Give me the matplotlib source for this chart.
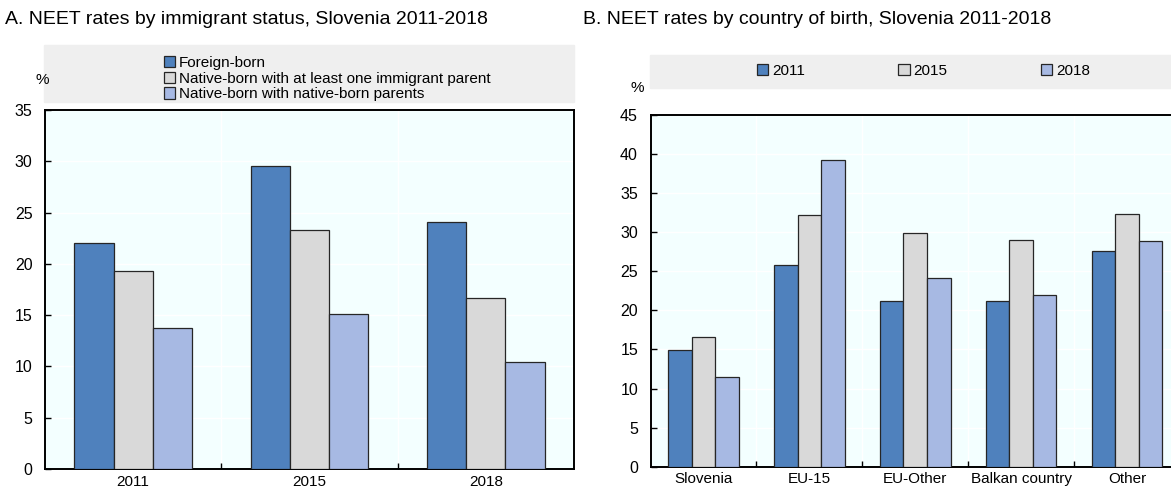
import matplotlib
matplotlib.use("Agg")
import matplotlib.pyplot as plt
import numpy as np
from matplotlib.patches import Rectangle

plt.rcParams["font.family"] = ["Liberation Sans Narrow", "Liberation Sans", "DejaVu Sans"]

# Panel A: NEET rates by immigrant status
years = ["2011", "2015", "2018"]
status_labels = [
    "Foreign-born",
    "Native-born with at least one immigrant parent",
    "Native-born with native-born parents",
]
foreign_born = [22.0, 29.5, 24.1]
native_imm_parent = [19.3, 23.3, 16.7]
native_native = [13.7, 15.1, 10.4]

# Panel B: NEET rates by country of birth
countries = ["Slovenia", "EU-15", "EU-Other", "Balkan country", "Other"]
rate_2011 = [14.9, 25.85, 21.25, 21.25, 27.6]
rate_2015 = [16.55, 32.25, 29.9, 29.05, 32.3]
rate_2018 = [11.5, 39.2, 24.15, 22.0, 28.85]

COLORS = ["#4f81bd", "#d9d9d9", "#a7b9e3"]
BG = "#f3ffff"
LEG_BG = "#efefef"
W, H = 1171, 490


def px_axes(fig, left, top, right, bottom):
    return fig.add_axes([left / W, (H - bottom) / H, (right - left) / W, (bottom - top) / H])


def grouped(ax, series, labels, cats, ymax, step):
    n = len(series)
    x = np.arange(len(cats))
    w = 0.222
    for i, (vals, lab) in enumerate(zip(series, labels)):
        ax.bar(x + (i - (n - 1) / 2) * w, vals, w, color=COLORS[i], edgecolor="#262626",
               linewidth=0.9, label=lab, zorder=3)
    ax.set_facecolor(BG)
    ax.set_xlim(-0.5, len(cats) - 0.5)
    ax.set_ylim(0, ymax)
    ax.set_yticks(np.arange(0, ymax + 0.1, step))
    ax.set_xticks(x)
    ax.set_xticklabels(cats)
    ax.set_xticks(np.arange(0.5, len(cats) - 0.5, 1), minor=True)
    ax.tick_params(axis="x", which="major", length=0, pad=4, labelsize=11)
    ax.tick_params(axis="x", which="minor", direction="in", length=4, width=1)
    ax.tick_params(axis="y", direction="in", length=4, width=1, pad=9, labelsize=11.5)
    ax.grid(True, which="minor", axis="x", color="white", linewidth=1, zorder=0)
    ax.grid(True, which="major", axis="y", color="white", linewidth=1, zorder=0)
    for s in ax.spines.values():
        s.set_linewidth(1.4)
        s.set_color("black")


fig = plt.figure(figsize=(W / 100, H / 100), dpi=100)

# A
axA = px_axes(fig, 45, 110, 574, 469)
grouped(axA, [foreign_born, native_imm_parent, native_native], status_labels, years, 35, 5)
fig.patches.append(Rectangle((44 / W, (H - 102) / H), 530 / W, 57 / H,
                             transform=fig.transFigure, color=LEG_BG, zorder=0))
hA, lA = axA.get_legend_handles_labels()
fig.legend(hA, lA, loc="upper left", bbox_to_anchor=(153 / W, (H - 45) / H),
           frameon=False, fontsize=11, handlelength=0.75, handleheight=0.75,
           handletextpad=0.25, labelspacing=0.12, borderpad=0.2)
fig.text(5 / W, (H - 20) / H, "A. NEET rates by immigrant status, Slovenia 2011-2018",
         fontsize=14, va="center", ha="left")
fig.text(42 / W, (H - 80) / H, "%", fontsize=11, va="center", ha="center")

# B
axB = px_axes(fig, 650.5, 115, 1180, 466.7)
grouped(axB, [rate_2011, rate_2015, rate_2018], years, countries, 45, 5)
fig.patches.append(Rectangle((650 / W, (H - 88) / H), 530 / W, 33 / H,
                             transform=fig.transFigure, color=LEG_BG, zorder=0))
hB, lB = axB.get_legend_handles_labels()
fig.legend(hB, lB, loc="center left", bbox_to_anchor=(746 / W, (H - 71) / H), ncol=3,
           frameon=False, fontsize=11, handlelength=0.75, handleheight=0.75,
           handletextpad=0.25, columnspacing=6.1, borderpad=0.2)
fig.text(583 / W, (H - 20) / H, "B. NEET rates by country of birth, Slovenia 2011-2018",
         fontsize=14, va="center", ha="left")
fig.text(637 / W, (H - 88) / H, "%", fontsize=11, va="center", ha="center")

fig.savefig("out.png", dpi=100)
